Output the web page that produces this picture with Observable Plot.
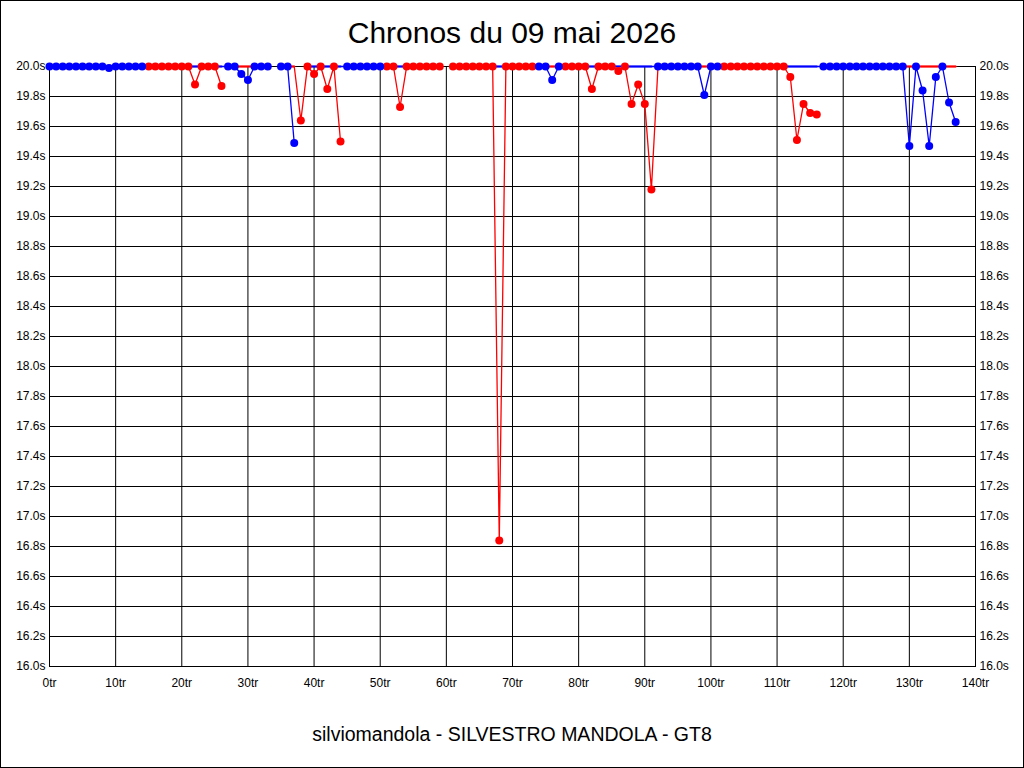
<!DOCTYPE html>
<html>
<head>
<meta charset="utf-8">
<script src="https://cdn.jsdelivr.net/npm/d3@7"></script>
<script src="https://cdn.jsdelivr.net/npm/@observablehq/plot@0.6"></script>
<style>
  body { margin: 0; background: #fff; }
  #page { position: relative; width: 1024px; height: 768px; background: #fff; overflow: hidden; font-family: "Liberation Sans", Arial, sans-serif; }
  #title { position: absolute; left: 0; top: 15px; width: 100%; text-align: center; font-size: 30px; line-height: 36px; color: #000; }
  #chart { position: absolute; left: 0; top: 56px; }
  #footer { position: absolute; left: 0; top: 722px; width: 100%; text-align: center; font-size: 19.5px; line-height: 24px; color: #000; }
  #border { position: absolute; left: 0; top: 0; width: 1024px; height: 768px; box-sizing: border-box; border: 1px solid #000; pointer-events: none; }
</style>
</head>
<body>
<div id="page">
  <div id="title">Chronos du 09 mai 2026</div>
  <div id="chart"></div>
  <div id="footer">silviomandola - SILVESTRO MANDOLA - GT8</div>
  <div id="border"></div>
</div>
<script>
// O = lap slower than the 20.0s top of the scale (drawn at the top, no dot); null = no lap recorded
const O = ">20.0s";

// lap times in seconds, one entry per lap (lap 0 .. 137)
const redLaps = [
  O, O, O, O, O, O, O, O, O, O,
  O, O, O, O, O, 20, 20, 20, 20, 20,
  20, 20, 19.88, 20, 20, 20, 19.87, null, O, O,
  O, O, null, null, null, null, O, O, 19.64, 20,
  19.95, 20, 19.85, 20, 19.50, null, O, O, O, O,
  O, 20, 20, 19.73, 20, 20, 20, 20, 20, 20,
  null, 20, 20, 20, 20, 20, 20, 20, 16.84, 20,
  20, 20, 20, 20, O, O, O, O, 20, 20,
  20, 20, 19.85, 20, 20, 20, 19.97, 20, 19.75, 19.88,
  19.75, 19.18, O, O, O, O, O, O, O, O,
  O, O, 20, 20, 20, 20, 20, 20, 20, 20,
  20, 20, 19.93, 19.51, 19.75, 19.69, 19.68, null, O, O,
  O, O, O, O, O, O, O, O, O, O,
  O, O, O, O, O, O, O, O
];

const blueLaps = [
  20, 20, 20, 20, 20, 20, 20, 20, 20, 19.99,
  20, 20, 20, 20, 20, O, O, O, O, O,
  O, O, O, O, O, O, O, 20, 20, 19.95,
  19.91, 20, 20, 20, null, 20, 20, 19.49, null, O,
  O, O, O, O, O, 20, 20, 20, 20, 20,
  20, O, O, O, O, O, O, O, O, O,
  null, O, O, O, O, O, O, O, O, O,
  O, O, O, O, 20, 20, 19.91, 20, O, O,
  O, O, O, O, O, O, O, O, O, O,
  O, O, 20, 20, 20, 20, 20, 20, 20, 19.81,
  20, 20, O, O, O, O, O, O, O, O,
  O, O, O, O, O, O, O, 20, 20, 20,
  20, 20, 20, 20, 20, 20, 20, 20, 20, 20,
  19.47, 20, 19.84, 19.47, 19.93, 20, 19.76, 19.63
];

const xTicks = [0, 10, 20, 30, 40, 50, 60, 70, 80, 90, 100, 110, 120, 130, 140];
const yTicks = [16.0, 16.2, 16.4, 16.6, 16.8, 17.0, 17.2, 17.4, 17.6, 17.8, 18.0,
                18.2, 18.4, 18.6, 18.8, 19.0, 19.2, 19.4, 19.6, 19.8, 20.0];
const yMax = 20.0;

const lap = (d, i) => i;
const lineY = d => d === O ? yMax : d;          // slow laps clamped to the top
const overY = d => d === O ? yMax : NaN;        // only the clamped stretches
const dotY = d => (d === O || d == null) ? NaN : d;

const chart = Plot.plot({
  width: 1024,
  height: 650,
  marginTop: 10,
  marginBottom: 40,
  marginLeft: 49,
  marginRight: 49,
  style: { background: "#fff", fontFamily: "'Liberation Sans', Arial, sans-serif", fontSize: "12px", color: "#000", overflow: "visible" },
  x: { domain: [0, 140] },
  y: { domain: [16, 20] },
  marks: [
    Plot.gridX(xTicks, { stroke: "#000", strokeOpacity: 1, strokeWidth: 1 }),
    Plot.gridY(yTicks, { stroke: "#000", strokeOpacity: 1, strokeWidth: 1 }),
    Plot.frame({ stroke: "#000", strokeWidth: 1 }),
    Plot.axisX(xTicks, { tickSize: 0, tickPadding: 12, tickFormat: d => d + "tr", label: null, fontSize: 12, fill: "#000" }),
    Plot.axisY(yTicks, { anchor: "left", tickSize: 0, tickPadding: 4, tickFormat: d => d.toFixed(1) + "s", label: null, fontSize: 12, fill: "#000" }),
    Plot.axisY(yTicks, { anchor: "right", tickSize: 0, tickPadding: 4, tickFormat: d => d.toFixed(1) + "s", label: null, fontSize: 12, fill: "#000" }),
    Plot.line(blueLaps, { x: lap, y: lineY, stroke: "#0000ff", strokeWidth: 1.3, curve: "linear" }),
    Plot.line(redLaps, { x: lap, y: lineY, stroke: "#ff0000", strokeWidth: 1.3, curve: "linear" }),
    Plot.line(blueLaps, { x: lap, y: overY, stroke: "#0000ff", strokeWidth: 2.2 }),
    Plot.line(redLaps, { x: lap, y: overY, stroke: "#ff0000", strokeWidth: 2.2 }),
    Plot.dot(redLaps, { x: lap, y: dotY, r: 4, fill: "#ff0000", stroke: "none" }),
    Plot.dot(blueLaps, { x: lap, y: dotY, r: 4, fill: "#0000ff", stroke: "none" })
  ]
});
document.getElementById("chart").appendChild(chart);
</script>
</body>
</html>
